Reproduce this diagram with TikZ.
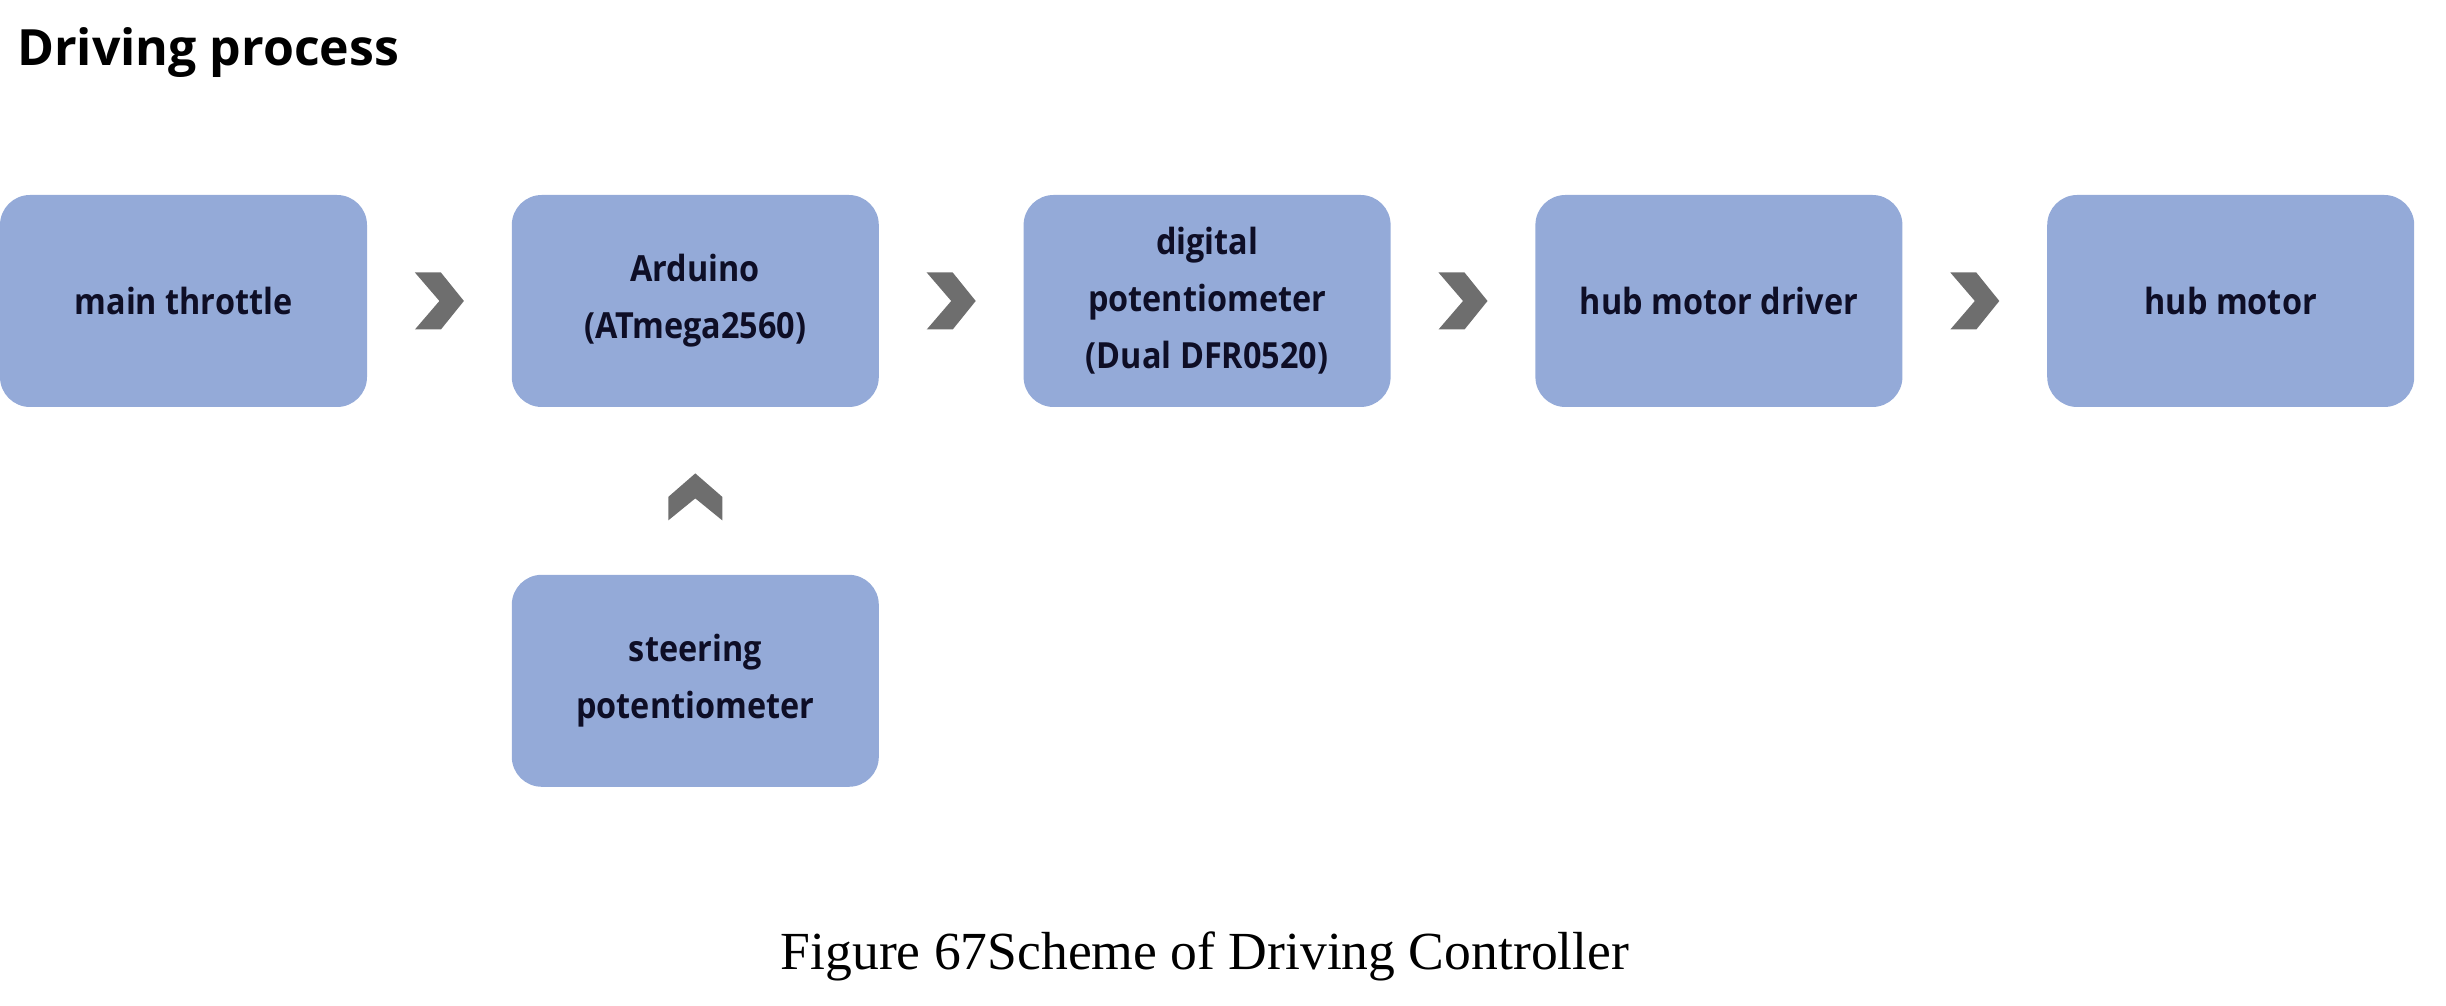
\documentclass[tikz,border=0pt]{standalone}
\usepackage{fontspec}
\setmainfont{Liberation Serif}
\newfontfamily\boxfont{Open Sans}[FakeStretch=0.9]
\newfontfamily\titlefont{Open Sans}
\usepackage{xcolor}
\usetikzlibrary{positioning, calc}
\definecolor{boxblue}{RGB}{148,170,216}
\definecolor{chevgray}{RGB}{110,110,110}
\definecolor{textnavy}{RGB}{14,14,38}
\tikzstyle{Box} = [
fill=boxblue,
rounded corners=15pt,
minimum width=183.5pt,
minimum height=106pt,
inner sep=0pt,
align=center,
text=textnavy,
font=\boxfont\bfseries\fontsize{18}{28.5}\selectfont]
\tikzstyle{Chevron} = [fill=chevgray]

\begin{document}
\begin{tikzpicture}[node distance=72pt]
    \useasboundingbox (0,0) rectangle (1223pt,503pt);
    \node [anchor=base west, font=\titlefont\bfseries\fontsize{25}{29}\selectfont] (title) at (5pt,470pt) {Driving process};
    \node [Box] (1) at (91.75pt,352.5pt) {main throttle};
    \node [Box, right =of 1] (2) {Arduino\\(ATmega2560)};
    \node [Box, right =of 2] (3) {digital\\potentiometer\\(Dual DFR0520)};
    \node [Box, right =of 3] (4) {hub motor driver};
    \node [Box, right =of 4] (5) {hub motor};
    \node [Box, below =83.5pt of 2] (6) {steering\\potentiometer};
    \node [anchor=base, font=\fontsize{26.8}{32}\selectfont] (caption) at (602.5pt,18pt) {Figure 67Scheme of Driving Controller};

    \foreach \a/\b in {1/2,2/3,3/4,4/5}
        \fill[Chevron, shift={($(\a.east)!0.5!(\b.west)$)}] (-12.25pt,14.25pt) -- (0.75pt,14.25pt) -- (12.25pt,0pt) -- (0.75pt,-14.25pt) -- (-12.25pt,-14.25pt) -- (0pt,0pt) -- cycle;
    \fill[Chevron, shift={($(6.north)!0.5!(2.south)+(0pt,-3pt)$)}] (-13.5pt,-11.75pt) -- (-13.5pt,0pt) -- (0pt,11.75pt) -- (13.5pt,0pt) -- (13.5pt,-11.75pt) -- (0pt,-0.75pt) -- cycle;
\end{tikzpicture}
\end{document}
